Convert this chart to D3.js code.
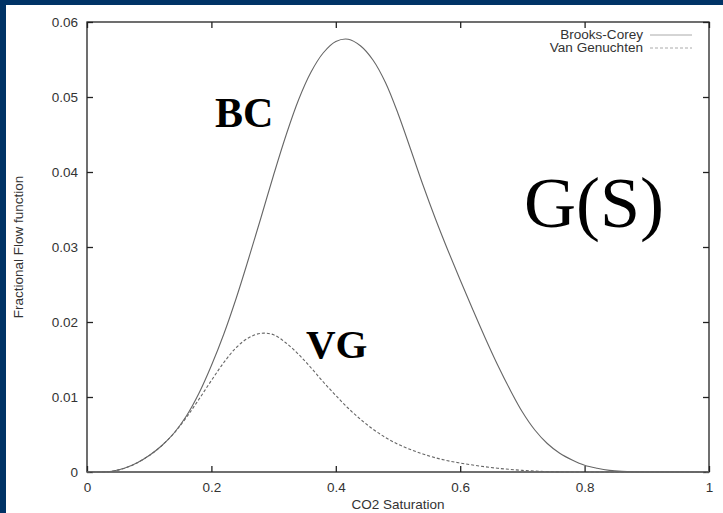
<!DOCTYPE html>
<html>
<head>
<meta charset="utf-8">
<script src="https://cdn.jsdelivr.net/npm/d3@7"></script>
<style>
  html, body { margin: 0; padding: 0; background: #fff; }
  svg { display: block; }
  .tick text { font-family: "Liberation Sans", Arial, sans-serif; font-size: 13.5px; fill: #333; }
</style>
</head>
<body>
<script>
// CO2 saturation samples
const saturation = [0.00,0.02,0.04,0.06,0.08,0.10,0.12,0.14,0.16,0.18,0.20,0.22,0.24,0.26,0.28,0.30,
  0.32,0.34,0.36,0.38,0.40,0.42,0.44,0.46,0.48,0.50,0.52,0.54,0.56,0.58,0.60,0.62,0.64,0.66,0.68,
  0.70,0.72,0.74,0.76,0.78,0.80,0.82,0.84,0.86,0.88,0.90,0.92,0.94,0.96,0.98,1.00];

// Fractional flow function G(S), Brooks-Corey model
const brooksCorey = [0,0,0.0001,0.0005,0.0012,0.0022,0.0035,0.0052,0.0075,0.0105,0.0142,0.0184,
  0.0232,0.0285,0.0340,0.0396,0.0449,0.0496,0.0533,0.0559,0.0574,0.0577,0.0568,0.0549,0.0519,
  0.0478,0.0431,0.0383,0.0338,0.0296,0.0256,0.0217,0.0179,0.0143,0.0110,0.0080,0.0056,0.0038,
  0.0025,0.0016,0.0009,0.0005,0.00022,0.00008,0.00002,0,0,0,0,0,0];

// Fractional flow function G(S), Van Genuchten model
const vanGenuchten = [0,0,0.0001,0.0005,0.0012,0.0022,0.0035,0.0052,0.0073,0.0097,0.0122,0.0146,
  0.0166,0.0179,0.0185,0.0183,0.0172,0.0157,0.0139,0.0120,0.0102,0.0085,0.0070,0.0057,0.0046,
  0.0037,0.0030,0.0024,0.0019,0.0015,0.0012,0.00093,0.0007,0.0005,0.00035,0.00022,0.00012,0.00005,
  0.00001,0,0,0,0,0,0,0,0,0,0,0,0];

const xTicks = [0, 0.2, 0.4, 0.6, 0.8, 1];
const yTicks = [0, 0.01, 0.02, 0.03, 0.04, 0.05, 0.06];
const seriesNames = ["Brooks-Corey", "Van Genuchten"];

const W = 723, H = 513;
const margin = { left: 87, top: 22, right: 14, bottom: 41 };
const iw = W - margin.left - margin.right;
const ih = H - margin.top - margin.bottom;

const svg = d3.select("body").append("svg").attr("width", W).attr("height", H);

// dark blue frame along the top and left edges
svg.append("rect").attr("x", 0).attr("y", 0).attr("width", W).attr("height", H).attr("fill", "#fff");
svg.append("rect").attr("x", 0).attr("y", 0).attr("width", W).attr("height", 5).attr("fill", "#003366");
svg.append("rect").attr("x", 0).attr("y", 0).attr("width", 6).attr("height", H).attr("fill", "#003366");

const x = d3.scaleLinear().domain([0, 1]).range([0, iw]);
const y = d3.scaleLinear().domain([0, 0.06]).range([ih, 0]);

const g = svg.append("g").attr("transform", `translate(${margin.left},${margin.top})`);

const fmtY = d => d === 0 ? "0" : d3.format(".2f")(d);
const fmtX = d => (d === 0 || d === 1) ? String(d) : d3.format(".1f")(d);

function styleAxis(sel) {
  sel.select(".domain").remove();
  sel.selectAll(".tick line").attr("stroke", "#222").attr("stroke-width", 1.3);
}

g.append("g").attr("transform", `translate(0,${ih})`)
  .call(d3.axisBottom(x).tickValues(xTicks).tickFormat(fmtX).tickSizeInner(-6).tickSizeOuter(0).tickPadding(10))
  .call(styleAxis);
g.append("g")
  .call(d3.axisLeft(y).tickValues(yTicks).tickFormat(fmtY).tickSizeInner(-6).tickSizeOuter(0).tickPadding(9))
  .call(styleAxis);
g.append("g")
  .call(d3.axisTop(x).tickValues(xTicks).tickFormat("").tickSizeInner(-6).tickSizeOuter(0))
  .call(styleAxis);
g.append("g").attr("transform", `translate(${iw},0)`)
  .call(d3.axisRight(y).tickValues(yTicks).tickFormat("").tickSizeInner(-6).tickSizeOuter(0))
  .call(styleAxis);

// plot border
g.append("rect").attr("width", iw).attr("height", ih)
  .attr("fill", "none").attr("stroke", "#222").attr("stroke-width", 1.3);

// curves
const line = d3.line().x(d => x(d[0])).y(d => y(Math.max(0, d[1]))).curve(d3.curveCatmullRom.alpha(0.5));
const bcPts = saturation.map((s, i) => [s, brooksCorey[i]]);
const vgPts = saturation.map((s, i) => [s, vanGenuchten[i]]);

g.append("path").datum(vgPts).attr("d", line)
  .attr("fill", "none").attr("stroke", "#666").attr("stroke-width", 1.1).attr("stroke-dasharray", "3,2");
g.append("path").datum(bcPts).attr("d", line)
  .attr("fill", "none").attr("stroke", "#666").attr("stroke-width", 1.1);

// legend
const legend = svg.append("g").attr("font-family", "Liberation Sans, Arial, sans-serif").attr("font-size", 12).attr("fill", "#333");
seriesNames.forEach((name, i) => {
  const ly = 35 + i * 13;
  legend.append("text").attr("transform", `translate(643,${ly}) scale(1.13,1)`)
    .attr("dy", "0.35em").attr("text-anchor", "end").text(name);
  legend.append("line").attr("x1", 650).attr("x2", 692).attr("y1", ly).attr("y2", ly)
    .attr("stroke", "#aaa").attr("stroke-width", 1).attr("stroke-dasharray", i === 0 ? null : "3,2");
});

// axis titles
svg.append("text").attr("x", margin.left + iw / 2).attr("y", 509)
  .attr("text-anchor", "middle").attr("font-family", "Liberation Sans, Arial, sans-serif")
  .attr("font-size", 13.5).attr("fill", "#333").text("CO2 Saturation");
svg.append("text").attr("transform", `translate(23,${margin.top + ih / 2}) rotate(-90)`)
  .attr("text-anchor", "middle").attr("font-family", "Liberation Sans, Arial, sans-serif")
  .attr("font-size", 13.5).attr("fill", "#333").text("Fractional Flow function");

// annotations
const serif = "Liberation Serif, Times New Roman, serif";
svg.append("text").attr("x", 215).attr("y", 127).attr("font-family", serif).attr("font-weight", "bold")
  .attr("font-size", 42).attr("fill", "#000").text("BC");
svg.append("text").attr("x", 306).attr("y", 358).attr("font-family", serif).attr("font-weight", "bold")
  .attr("font-size", 41).attr("fill", "#000").text("VG");
svg.append("text").attr("x", 524).attr("y", 227).attr("font-family", serif)
  .attr("font-size", 72).attr("fill", "#000").text("G(S)");
</script>
</body>
</html>
